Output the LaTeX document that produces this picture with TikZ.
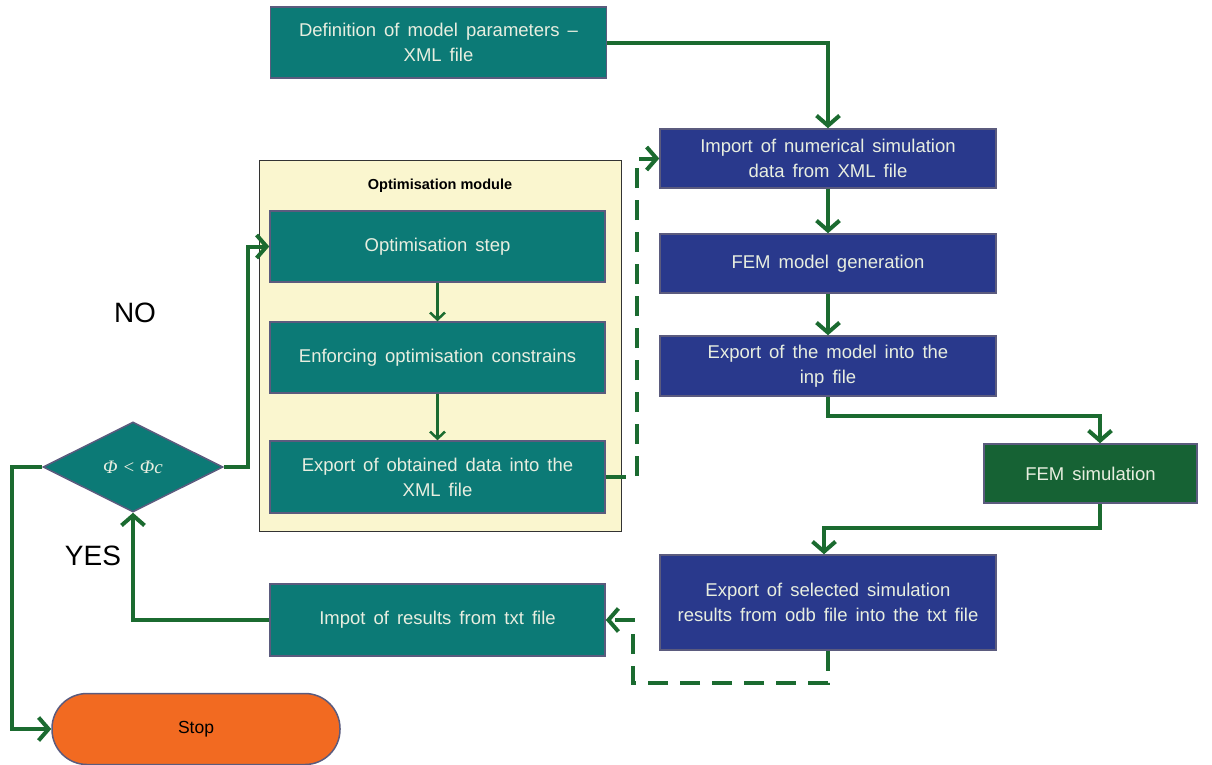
\documentclass[tikz,border=0pt]{standalone}
\usepackage{fontspec}
\setmainfont{Liberation Sans}
\newfontfamily\timesit{Liberation Serif}
\usetikzlibrary{shapes.geometric,arrows.meta,calc}
\definecolor{teal1}{HTML}{0C7A76}
\definecolor{navy1}{HTML}{29398C}
\definecolor{femgreen}{HTML}{166234}
\definecolor{argreen}{HTML}{1B6B30}
\definecolor{orange1}{HTML}{F26A21}
\definecolor{yell}{HTML}{FAF6CF}
\definecolor{bord}{HTML}{5B5B7E}
\definecolor{txtl}{HTML}{E8EEE0}
\newcommand\boxfont{\fontsize{18.5}{25}\selectfont\spaceskip=8pt\relax}
\tikzset{
  box/.style={draw=bord, line width=1.5pt, text=txtl, align=center, inner sep=0pt,
    font=\boxfont},
  tbox/.style={box, fill=teal1, minimum width=336pt},
  nbox/.style={box, fill=navy1, minimum width=336pt},
  arr/.style={draw=argreen, line width=4pt, -{Straight Barb[length=10pt,width=23pt]}},
  darr/.style={arr, dash pattern=on 20pt off 12pt},
  sarr/.style={draw=argreen, line width=2.5pt, -{Straight Barb[length=7pt,width=15pt]}},
}
\begin{document}
\begin{tikzpicture}[x=1pt,y=-1pt]
\useasboundingbox (0,0) rectangle (1212,764);
% module frame
\node[draw=black!80, line width=1pt, fill=yell, minimum width=362pt, minimum height=371pt, inner sep=0pt] (mod) at (440,345.5) {};
\node[font=\fontsize{14.5}{17}\selectfont\bfseries, text=black] (modt) at (440,186) {Optimisation module};
% boxes
\node[tbox, minimum height=71pt] (def) at (438.5,42.5) {Definition of model parameters --\\XML file};
\node[nbox, minimum height=59pt] (imp) at (828,158.5) {Import of numerical simulation\\data from XML file};
\node[nbox, minimum height=59pt] (fgen) at (828,263.5) {FEM model generation};
\node[nbox, minimum height=60pt] (expm) at (828,366) {Export of the model into the\\inp file};
\node[box, fill=femgreen, minimum width=213pt, minimum height=59pt] (fsim) at (1090.5,473.5) {FEM simulation};
\node[nbox, minimum height=95pt] (exps) at (828,602.5) {Export of selected simulation\\results from odb file into the txt file};
\node[tbox, minimum width=335pt, minimum height=72pt] (res) at (437.5,620) {Impot of results from txt file};
\node[tbox, minimum width=335pt, minimum height=71pt] (ostep) at (437.5,246.5) {Optimisation step};
\node[tbox, minimum width=335pt, minimum height=71pt] (enf) at (437.5,357.5) {Enforcing optimisation constrains};
\node[tbox, minimum width=335pt, minimum height=72pt] (eobt) at (437.5,477) {Export of obtained data into the\\XML file};
\node[diamond, draw=bord, line width=1.5pt, fill=teal1, text=txtl, minimum width=180pt, minimum height=90pt, inner sep=0pt, font=\timesit\itshape\fontsize{19}{21}\selectfont] (dia) at (133,467) {Φ < Φc};
\node[draw=bord, line width=1.5pt, fill=orange1, rounded corners=35pt, minimum width=288pt, minimum height=71pt, inner sep=0pt, text=black, font=\fontsize{17.5}{20}\selectfont] (stop) at (196,729) {Stop};
\node[font=\fontsize{28}{30}\selectfont, text=black] (no) at (135,313) {NO};
\node[font=\fontsize{28}{30}\selectfont, text=black] (yes) at (93,556) {YES};
% connectors
\draw[arr] (def.east) -| (imp.north);
\draw[arr] (imp.south) -- (fgen.north);
\draw[arr] (fgen.south) -- (expm.north);
\draw[arr] (expm.south) -- ++(0,19) -| ([xshift=9.5pt]fsim.north);
\draw[arr] ([xshift=9.5pt]fsim.south) -- ++(0,24) -| ([xshift=-4pt]exps.north);
\draw[darr] (exps.south) -- ++(0,32) -| ([xshift=27pt]res.east) -- (res.east);
\draw[arr] (res.west) -| (dia.south);
\draw[arr] (dia.east) -- ++(24,0) |- (ostep.west);
\draw[sarr] (ostep.south) -- (enf.north);
\draw[sarr] (enf.south) -- (eobt.north);
\draw[darr] (eobt.east) -- ++(31,0) |- (imp.west);
\draw[arr] (dia.west) -- ++(-30,0) |- (stop.west);
\end{tikzpicture}
\end{document}
